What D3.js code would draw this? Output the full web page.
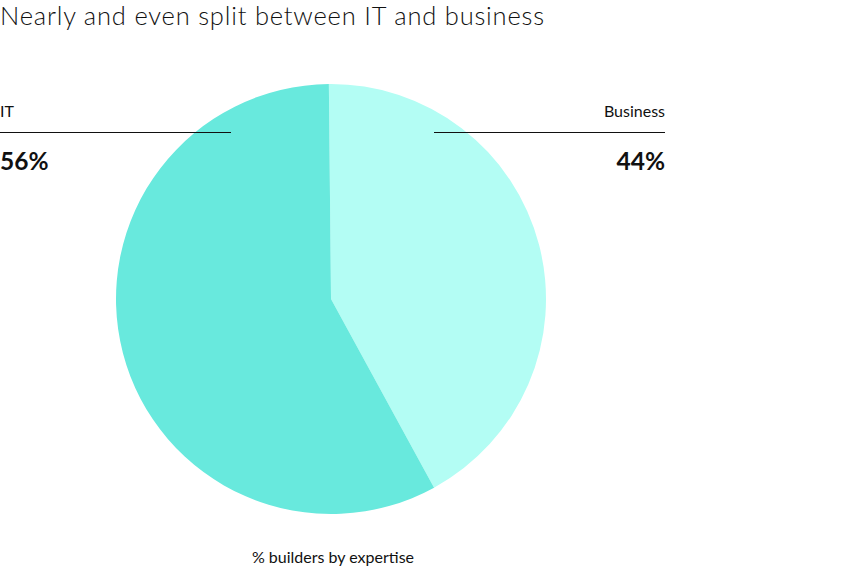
<!DOCTYPE html>
<html>
<head>
<meta charset="utf-8">
<script src="https://cdn.jsdelivr.net/npm/d3@7"></script>
<style>
  body { margin: 0; background: #fff; }
  text { font-family: Lato, "Open Sans", sans-serif; fill: #111; }
  .title { font-size: 25.5px; font-weight: 300; }
  .cat { font-size: 16px; font-weight: 400; }
  .pct { font-size: 24.5px; font-weight: 700; }
  .foot { font-size: 16px; font-weight: 400; }
</style>
</head>
<body>
<div id="chart"></div>
<script>
var categories = ['IT', 'Business']
// slice sizes as drawn in the picture
var shares = [57.8, 42.2]
var pctLabels = ['56%', '44%']
var colors = ['#68e9dd', '#b3fdf4']

var width = 849, height = 568
var cx = 331, cy = 299, r = 215

var svg = d3.select('#chart').append('svg')
  .attr('width', width).attr('height', height)

svg.append('text').attr('class', 'title')
  .attr('x', 0).attr('y', 25)
  .attr('textLength', 544).attr('lengthAdjust', 'spacing')
  .text('Nearly and even split between IT and business')

// business starts at 12 o'clock going clockwise, IT fills the rest
var pie = d3.pie().sort(null).startAngle(-0.01).endAngle(2 * Math.PI - 0.01)
var arcs = pie(shares.slice().reverse())
var arcGen = d3.arc().innerRadius(0).outerRadius(r)
var fillFor = colors.slice().reverse()

svg.append('g').attr('transform', 'translate(' + cx + ',' + cy + ')')
  .selectAll('path').data(arcs).enter().append('path')
  .attr('d', arcGen)
  .attr('fill', function(d, i){ return fillFor[i] })

// label blocks
var blocks = [
  {x0: 0, x1: 231, anchor: 'start'},
  {x0: 434, x1: 665, anchor: 'end'}
]

blocks.forEach(function(b, i){
  var g = svg.append('g')
  var tx = b.anchor == 'start' ? b.x0 : b.x1
  g.append('text').attr('class', 'cat')
    .attr('x', tx).attr('y', 117).attr('text-anchor', b.anchor)
    .text(categories[i])
  g.append('line')
    .attr('x1', b.x0).attr('x2', b.x1)
    .attr('y1', 132.5).attr('y2', 132.5)
    .attr('stroke', '#111').attr('stroke-width', 1)
  g.append('text').attr('class', 'pct')
    .attr('x', tx).attr('y', 170).attr('text-anchor', b.anchor)
    .text(pctLabels[i])
})

svg.append('text').attr('class', 'foot')
  .attr('x', 333).attr('y', 563).attr('text-anchor', 'middle')
  .text('% builders by expertise')
</script>
</body>
</html>
